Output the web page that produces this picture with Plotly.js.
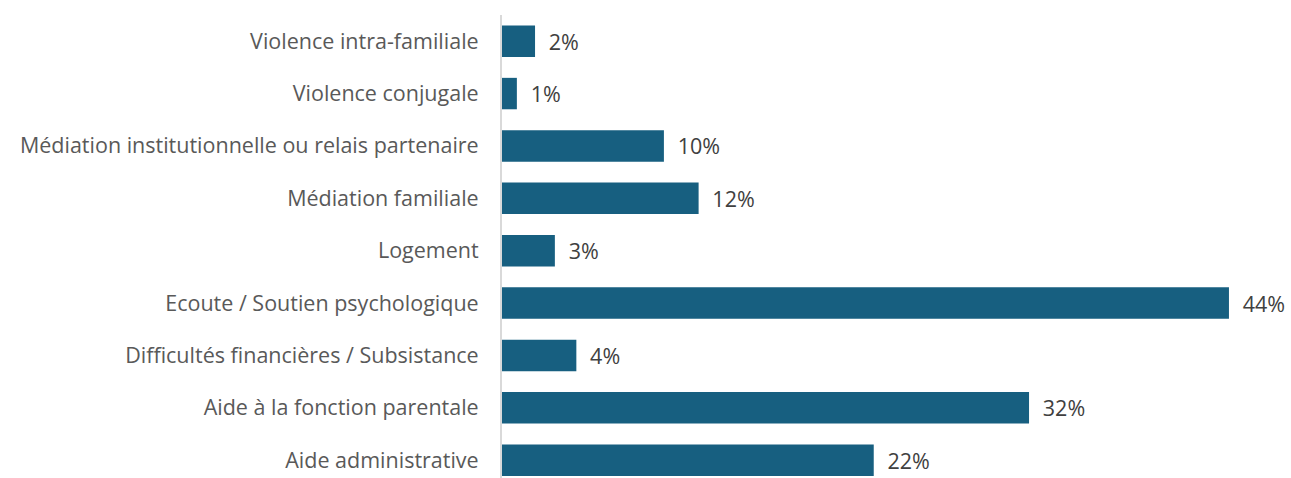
<!DOCTYPE html>
<html><head><meta charset="utf-8">
<script src="https://cdn.plot.ly/plotly-3.0.1.min.js"></script>
<style>html,body{margin:0;padding:0;background:#fff;}#chart{width:1291px;height:478px;}</style>
</head><body><div id="chart"></div>
<script>
const categories = ["Aide administrative","Aide à la fonction parentale","Difficultés financières / Subsistance","Ecoute / Soutien psychologique","Logement","Médiation familiale","Médiation institutionnelle ou relais partenaire","Violence conjugale","Violence intra-familiale"];
const values = [22.5, 31.9, 4.5, 44.0, 3.2, 11.9, 9.8, 0.9, 2.0];
const labels = ["22%","32%","4%","44%","3%","12%","10%","1%","2%"];

const trace = {
  type: 'bar', orientation: 'h',
  x: values, y: categories,
  text: labels.map(t => '\u2002' + t),
  textposition: 'outside', cliponaxis: false,
  textfont: {family: 'Open Sans, sans-serif', size: 21.5, color: '#404040'},
  marker: {color: '#175F80'},
  hoverinfo: 'none'
};
const layout = {
  width: 1291, height: 478,
  margin: {l: 502, r: 10, t: 15, b: 0},
  paper_bgcolor: '#fff', plot_bgcolor: '#fff',
  bargap: 0.4, showlegend: false,
  xaxis: {range: [0, 47.15], visible: false, showgrid: false, zeroline: false},
  yaxis: {type: 'category', categoryorder: 'array', categoryarray: categories,
    range: [-0.34, 8.5], showline: true, linecolor: '#D9D9D9', linewidth: 2,
    ticks: 'outside', ticklen: 17, tickcolor: 'rgba(0,0,0,0)', showgrid: false, zeroline: false,
    tickfont: {family: 'Open Sans, sans-serif', size: 21.5, color: '#595959'}},
  font: {family: 'Open Sans, sans-serif'}
};
Plotly.newPlot('chart', [trace], layout, {staticPlot: true, displayModeBar: false});
</script></body></html>
